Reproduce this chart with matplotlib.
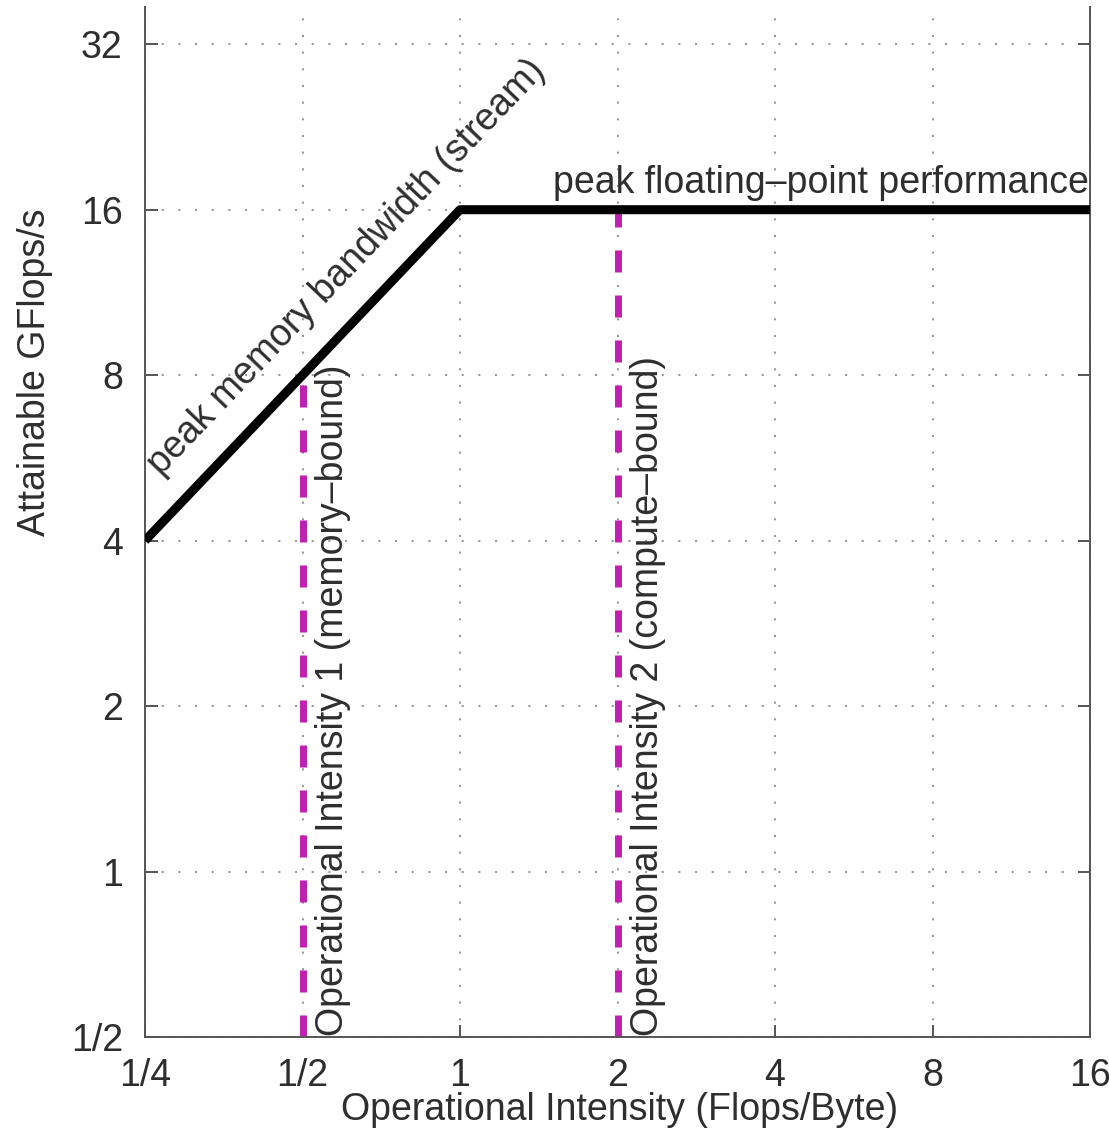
import matplotlib
matplotlib.use("Agg")
import matplotlib.pyplot as plt

# roofline: bandwidth-limited slope then the compute ceiling
roof_x = [0.25, 1, 16]
roof_y = [4, 16, 16]

# two example kernels
kernel_x = [0.5, 2]
kernel_top = [8, 16]
kernel_labels = ["Operational Intensity 1 (memory\u2013bound)",
                 "Operational Intensity 2 (compute\u2013bound)"]

xticks = [0.25, 0.5, 1, 2, 4, 8, 16]
xticklabels = ["1/4", "1/2", "1", "2", "4", "8", "16"]
yticks = [0.5, 1, 2, 4, 8, 16, 32]
yticklabels = ["1/2", "1", "2", "4", "8", "16", "32"]

plt.rcParams['font.family'] = ['Liberation Sans', 'DejaVu Sans']
txt = '#2e2e2e'
fs = 27

fig = plt.figure(figsize=(11.09, 11.36), dpi=100)
ax = fig.add_axes([145 / 1109, 1 - 1037 / 1136, 945 / 1109, 1030 / 1136])

ax.set_xscale('log', base=2)
ax.set_yscale('log', base=2)
ax.set_xlim(0.25, 16)
ax.set_ylim(0.5, 37.4)

ax.grid(True, color='#999999', linestyle=(0, (1, 7)), linewidth=1.5)
ax.set_axisbelow(True)

ax.plot(roof_x, roof_y, color='black', linewidth=6.5, solid_capstyle='butt', zorder=3)

for x, top in zip(kernel_x, kernel_top):
    ax.plot([x, x], [0.5, top], color='#c01fb0', linewidth=5,
            linestyle=(0, (3.17, 3.31)), zorder=2)

for x, lab in zip(kernel_x, kernel_labels):
    ax.annotate(lab, xy=(x, 0.5), xytext=(22, 1), textcoords='offset points',
                rotation=90, ha='center', va='bottom', fontsize=fs, color=txt)

ax.annotate("peak memory bandwidth (stream)", xy=(0.25, 4), xytext=(12, 46),
            textcoords='offset points', rotation=46.4, rotation_mode='anchor',
            ha='left', va='baseline', fontsize=fs, color=txt)
ax.annotate("peak floating\u2013point performance", xy=(16, 16), xytext=(-1, 12),
            textcoords='offset points', ha='right', va='baseline',
            fontsize=fs, color=txt)

ax.set_xticks(xticks)
ax.set_xticklabels(xticklabels)
ax.set_yticks(yticks)
ax.set_yticklabels(yticklabels)
ax.minorticks_off()
ax.tick_params(axis='both', direction='in', length=9, width=1.4, color='#555555',
               labelsize=fs, labelcolor=txt)
ax.tick_params(axis='y', right=True, pad=16)
ax.tick_params(axis='x', pad=15)

ax.spines['top'].set_visible(False)
for s in ['left', 'right', 'bottom']:
    ax.spines[s].set_color('#555555')
    ax.spines[s].set_linewidth(1.4)

fig.text(620 / 1109, 1 - 1110 / 1136, "Operational Intensity (Flops/Byte)",
         ha='center', va='center', fontsize=fs, color=txt)
fig.text(35 / 1109, 1 - 372 / 1136, "Attainable GFlops/s", rotation=90,
         ha='center', va='center', fontsize=fs, color=txt)

fig.savefig("out.png", dpi=100)
